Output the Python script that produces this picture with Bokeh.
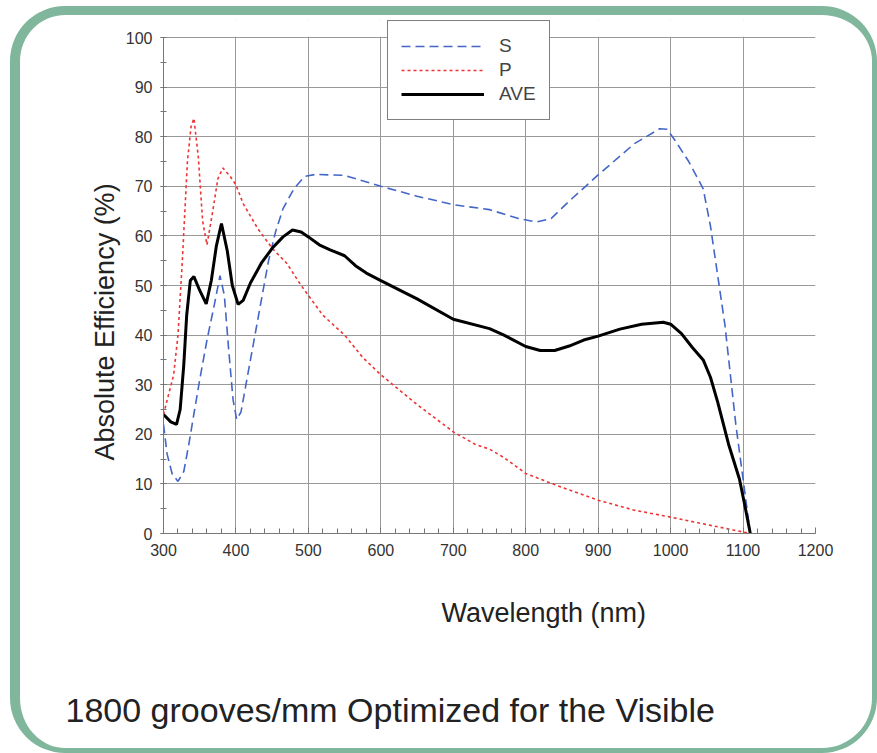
from bokeh.plotting import figure
from bokeh.models import (Legend, LegendItem, Title, BoxAnnotation, SingleIntervalTicker,
                          InlineStyleSheet)
from bokeh.embed import file_html
from bokeh.resources import INLINE

# ---- data ----
s_wavelength = [300, 305, 312, 320, 328, 335, 343, 350, 360, 370, 378, 384, 390, 396, 401,
                407, 415, 425, 435, 445, 455, 465, 480, 495, 510, 550, 600, 650, 700, 750,
                790, 815, 835, 860, 900, 950, 985, 995, 1005, 1025, 1045, 1055, 1065, 1075,
                1090, 1100, 1110]
s_eff = [22, 16, 12, 10.5, 12.5, 18, 25, 31, 39, 46, 52, 48, 37, 27, 23,
         24.5, 31, 39, 47, 55, 61, 65.5, 69.5, 72, 72.4, 72.2, 70, 68, 66.3, 65.3,
         63.5, 62.8, 63.5, 67, 72.3, 78.6, 81.6, 81.5, 79.5, 75, 69.5, 62, 52, 42,
         22, 11, 0]

p_wavelength = [300, 307, 314, 320, 326, 333, 338, 342, 348, 354, 360, 368, 375, 382, 392,
                400, 410, 430, 450, 470, 490, 500, 520, 550, 575, 600, 650, 700, 730, 750,
                770, 800, 850, 900, 950, 1000, 1050, 1100, 1110]
p_eff = [24, 28, 32, 40, 55, 75, 82, 83.7, 76, 63, 58.2, 65, 71.5, 73.7, 72,
         70.3, 66.5, 61.5, 57.5, 54.5, 50, 48, 44, 40, 35.5, 32, 26, 20.5, 18, 17,
         15.3, 12.1, 9.3, 6.7, 4.7, 3.3, 1.8, 0.3, 0]

ave_wavelength = [300, 310, 318, 323, 328, 332, 337, 342, 350, 359, 366, 373, 380, 388, 395,
                  403, 410, 420, 435, 450, 465, 478, 490, 500, 515, 530, 550, 565, 580, 600,
                  650, 700, 750, 770, 800, 820, 840, 860, 880, 900, 930, 960, 990, 1000,
                  1015, 1030, 1045, 1055, 1065, 1080, 1095, 1102, 1110]
ave_eff = [24, 22.5, 22, 25, 34, 44, 51, 51.8, 49, 46.3, 51, 58, 62.5, 57, 50,
           46.2, 47, 50.5, 54.5, 57.5, 59.8, 61.2, 60.8, 59.8, 58.2, 57.2, 56, 54, 52.5, 51,
           47.3, 43.2, 41.3, 40, 37.7, 36.9, 36.9, 37.8, 39, 39.8, 41.2, 42.2, 42.6, 42.2,
           40.3, 37.5, 35, 31.5, 26.5, 18, 11, 6, 0]

series_labels = ["S", "P", "AVE"]
x_title = "Wavelength (nm)"
y_title = "Absolute Efficiency (%)"
caption = "1800 grooves/mm Optimized for the Visible"

FONT = "Liberation Sans"
Y_MAX = 100

border_css = InlineStyleSheet(css="""
:host { position: relative; }
:host::after {
  content: "";
  position: absolute;
  left: 10px; top: 6px; right: 0px; bottom: 0px;
  box-sizing: border-box;
  border-style: solid;
  border-color: #80b69c;
  border-width: 9px 5px 5px 10px;
  border-radius: 55px;
  pointer-events: none;
  z-index: 10;
}
""")

p = figure(width=877, height=753, x_range=(300, 1200), y_range=(0, 103.43),
           output_backend="svg", toolbar_location=None,
           min_border_left=163, min_border_right=62, min_border_top=20,
           min_border_bottom=220, background_fill_color="white",
           border_fill_color="white", outline_line_color=None)
p.stylesheets = [border_css]

# grid
p.xgrid.ticker = SingleIntervalTicker(interval=100)
p.ygrid.ticker = SingleIntervalTicker(interval=10)
p.grid.grid_line_color = "#999999"
p.grid.grid_line_width = 1
# blank the strip above 100 % (room for the legend)
p.add_layout(BoxAnnotation(bottom=Y_MAX + 0.15, fill_color="white", fill_alpha=1,
                           line_color=None, level="underlay"))

r_s = p.line(s_wavelength, s_eff, line_color="#4466c8", line_width=1.6, line_dash="9 5")
r_p = p.line(p_wavelength, p_eff, line_color="#ee3333", line_width=1.6, line_dash="3 3")
r_a = p.line(ave_wavelength, ave_eff, line_color="black", line_width=3)

# axes
p.xaxis.ticker = SingleIntervalTicker(interval=100, num_minor_ticks=5)
p.yaxis.ticker = SingleIntervalTicker(interval=10, num_minor_ticks=2)
p.yaxis.bounds = (0, Y_MAX)
for ax in (p.xaxis, p.yaxis):
    ax.axis_line_color = "#777777"
    ax.major_tick_line_color = "#777777"
    ax.minor_tick_line_color = "#777777"
    ax.major_label_text_font = FONT
    ax.major_label_text_font_size = "16px"
    ax.major_label_text_color = "#333333"
p.xaxis.major_tick_in = 6
p.xaxis.major_tick_out = 0
p.xaxis.minor_tick_in = 5
p.xaxis.minor_tick_out = 0
p.xaxis.major_label_standoff = 10
p.yaxis.major_tick_in = 3
p.yaxis.major_tick_out = 3
p.yaxis.minor_tick_in = 3
p.yaxis.minor_tick_out = 3
p.yaxis.major_label_standoff = 8

# legend
legend = Legend(items=[LegendItem(label=series_labels[0], renderers=[r_s]),
                       LegendItem(label=series_labels[1], renderers=[r_p]),
                       LegendItem(label=series_labels[2], renderers=[r_a])],
                location=(224, 413), border_line_color="black", border_line_width=1,
                background_fill_color="white", background_fill_alpha=1,
                label_text_font=FONT, label_text_font_size="19px",
                glyph_width=83, glyph_height=24, label_height=24,
                label_standoff=15, padding=13, spacing=0, margin=0)
p.add_layout(legend, "center")

# axis titles and caption as titles in the side panels
p.add_layout(Title(text=y_title, align="left", offset=73, standoff=5,
                   text_font=FONT, text_font_size="27px", text_font_style="normal",
                   text_color="#222222"), "left")
p.add_layout(Title(text=x_title, align="left", offset=278, standoff=75,
                   text_font=FONT, text_font_size="27px", text_font_style="normal",
                   text_color="#222222"), "below")
p.add_layout(Title(text=caption, align="left", offset=-98, standoff=46,
                   text_font=FONT, text_font_size="34px", text_font_style="normal",
                   text_color="#222222"), "below")

open("out.html", "w").write(file_html(p, INLINE))
